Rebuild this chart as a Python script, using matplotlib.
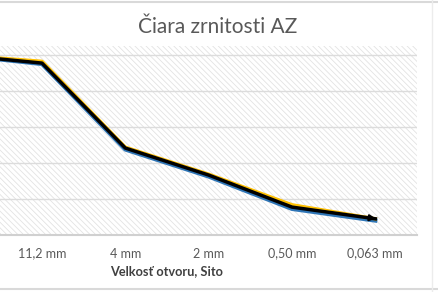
import matplotlib
matplotlib.use('Agg')
import matplotlib.pyplot as plt
from matplotlib.lines import Line2D
from matplotlib.patches import Rectangle

plt.rcParams['font.family'] = ['Lato', 'DejaVu Sans']
plt.rcParams['hatch.linewidth'] = 0.6
plt.rcParams['hatch.color'] = '#e3e3e3'

# sieve sizes (first one is cut off at the left edge of the picture)
sieves = ['16 mm', '11,2 mm', '4 mm', '2 mm', '0,50 mm', '0,063 mm']

# passing through the sieve, %
lower = [100, 95.0, 47.5, 32.5, 14.5, 8.0]
upper = [100, 96.5, 48.8, 33.8, 16.8, 9.0]
sample = [100, 95.5, 48.3, 33.3, 15.5, 9.0]

fig = plt.figure(figsize=(4.38, 2.92), dpi=100)
# plot area runs past the left edge, like the cropped screenshot
ax = fig.add_axes([-83 / 438, 57 / 292, 500 / 438, 189 / 292])

x = list(range(len(sieves)))

# hatched plot background
ax.add_patch(Rectangle((0, 0), 1, 1, transform=ax.transAxes, facecolor='white',
                       hatch='\\\\\\\\\\\\', edgecolor='#e3e3e3', linewidth=0, zorder=0))

ax.plot(x, lower, color='#2e75b6', lw=3.0, zorder=3, solid_joinstyle='round')
ax.plot(x, upper, color='#ffc000', lw=2.4, zorder=3, solid_joinstyle='round')
ax.plot(x, sample, color='black', lw=2.5, zorder=4, solid_joinstyle='round')

# arrow head at the end of the black line
ax.annotate('', xy=(x[-1] + 0.04, sample[-1] - 0.1),
            xytext=(x[-2] + 0.8, sample[-2] + 0.8 * (sample[-1] - sample[-2])),
            arrowprops=dict(arrowstyle='-|>', color='black', lw=1.5, mutation_scale=9), zorder=5)

ax.set_xlim(-0.5, len(sieves) - 0.5)
ax.set_ylim(0, 105)
ax.set_yticks([0, 20, 40, 60, 80, 100])
ax.set_yticklabels([])
ax.set_xticks(x)
ax.set_xticklabels(sieves, fontsize=9, color='#595959')
# the first sieve label lies outside the cropped picture
ax.get_xticklabels()[0].set_visible(False)
ax.tick_params(axis='both', length=0)
ax.tick_params(axis='x', pad=9)
ax.grid(axis='y', color='#dcdcdc', lw=1.0, zorder=1)
ax.set_axisbelow(True)

for s in ['top', 'right', 'left']:
    ax.spines[s].set_visible(False)
ax.spines['bottom'].set_color('#d0d0d0')
ax.spines['bottom'].set_linewidth(1.5)

ax.set_xlabel('Velkosť otvoru, Sito', fontsize=9.2, fontweight='bold', color='#404040', labelpad=4)

fig.text(218 / 438, 1 - 27 / 292, 'Čiara zrnitosti AZ', ha='center', va='center',
         fontsize=15, color='#595959')

# border of the chart frame
fig.add_artist(Line2D([0, 1], [1 - 1.5 / 292, 1 - 1.5 / 292], color='#d9d9d9', lw=1.5))
fig.add_artist(Line2D([0, 1], [3 / 292, 3 / 292], color='#d9d9d9', lw=1.5))
fig.add_artist(Line2D([432 / 438, 432 / 438], [0, 1], color='#ececec', lw=1.0))

fig.savefig('out.png', dpi=100)
